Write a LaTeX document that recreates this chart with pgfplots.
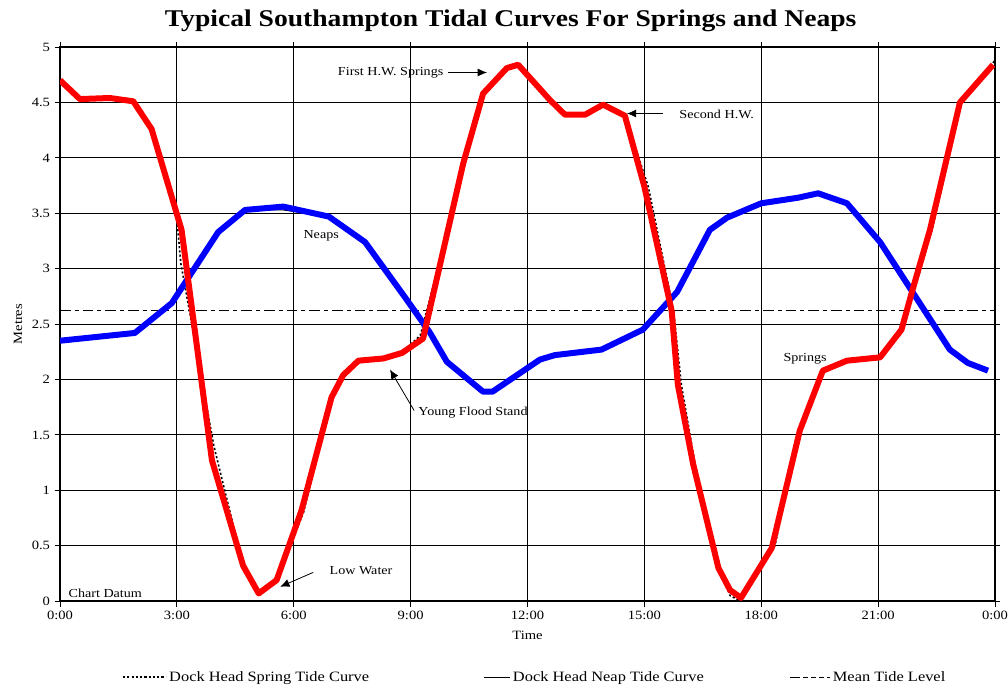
\documentclass[border=0pt]{standalone}
\usepackage{fontspec}
\setmainfont[FakeStretch=1.15]{Liberation Serif}
\usepackage{pgfplots}
\pgfplotsset{compat=1.18}
\usetikzlibrary{arrows.meta}

\pgfplotstableread{
x y
0.00 4.70
0.51 4.53
1.28 4.54
1.88 4.51
2.35 4.26
3.12 3.35
3.90 1.27
4.70 0.32
5.10 0.07
5.56 0.19
6.20 0.82
6.97 1.84
7.27 2.04
7.66 2.17
8.30 2.19
8.78 2.24
9.32 2.37
10.35 3.95
10.86 4.58
11.47 4.81
11.76 4.84
12.58 4.52
12.96 4.39
13.48 4.39
13.94 4.48
14.50 4.38
15.00 3.74
15.70 2.62
15.86 1.95
16.25 1.24
16.90 0.30
17.20 0.10
17.48 0.03
18.27 0.48
18.99 1.54
19.58 2.08
20.20 2.17
21.05 2.20
21.60 2.45
21.90 2.83
22.33 3.35
23.10 4.50
23.95 4.84
}\spring

\pgfplotstableread{
x y
0.00 4.70
0.51 4.53
1.28 4.53
1.88 4.51
2.35 4.26
3.00 3.45
3.10 3.05
3.95 1.40
4.70 0.32
5.10 0.07
5.56 0.19
6.25 0.80
6.97 1.84
7.27 2.04
7.66 2.17
8.30 2.19
8.78 2.24
9.25 2.40
10.40 3.95
10.86 4.58
11.47 4.81
11.76 4.84
12.58 4.52
12.96 4.39
13.48 4.39
13.94 4.48
14.50 4.38
15.10 3.74
15.75 2.62
15.95 1.95
16.30 1.24
16.90 0.30
17.20 0.05
17.48 0.00
18.35 0.50
18.99 1.54
19.65 2.10
20.20 2.17
21.05 2.20
21.60 2.45
21.95 2.83
22.38 3.35
23.15 4.50
24.00 4.88
}\springdot

\pgfplotstableread{
x y
0.00 2.35
1.92 2.42
2.87 2.69
4.06 3.33
4.75 3.53
5.73 3.53
6.90 3.47
7.83 3.24
8.90 2.72
9.50 2.42
9.93 2.16
10.86 1.89
11.10 1.89
12.32 2.18
12.70 2.22
13.90 2.27
14.96 2.45
15.84 2.79
16.68 3.33
17.12 3.46
18.00 3.59
18.94 3.64
19.46 3.68
20.20 3.59
21.05 3.24
21.90 2.78
22.84 2.27
23.30 2.15
23.82 2.08
}\neap

\pgfplotstableread{
x y
0.00 2.35
1.92 2.42
2.87 2.69
4.06 3.33
4.75 3.53
5.73 3.56
6.90 3.47
7.83 3.24
8.90 2.72
9.50 2.42
9.93 2.16
10.86 1.89
11.10 1.89
12.32 2.18
12.70 2.22
13.90 2.27
14.96 2.45
15.84 2.79
16.68 3.35
17.12 3.46
18.00 3.59
18.94 3.64
19.46 3.68
20.20 3.59
21.05 3.24
21.90 2.78
22.84 2.27
23.30 2.15
23.82 2.08
}\neapthick

\pgfplotstableread{
x y
0 2.62
24 2.62
}\mean

\begin{document}
\begin{tikzpicture}
\begin{axis}[
  width=701pt, height=415.5pt, scale only axis,
  xmin=0, xmax=24, ymin=0, ymax=5,
  xtick={0,3,...,24},
  xticklabels={0:00,3:00,6:00,9:00,12:00,15:00,18:00,21:00,0:00},
  ytick={0,0.5,...,5},
  yticklabels={0,0.5,1,1.5,2,2.5,3,3.5,4,4.5,5},
  grid=major,
  grid style={black, line width=0.7pt},
  axis line style={black, line width=1.2pt},
  tick style={black, line width=0.7pt},
  tick align=outside,
  major tick length=4pt,
  ticklabel style={font=\fontsize{9.5}{11}\selectfont},
  /pgf/number format/assume math mode=true,
  xlabel={Time},
  ylabel={Metres},
  xlabel style={at={(axis description cs:0.5,-0.0614)}, anchor=center, font=\fontsize{9.5}{11}\selectfont},
  ylabel style={at={(axis description cs:-0.045,0.5)}, anchor=center, font=\fontsize{9.5}{11}\selectfont},
  title={\textbf{Typical Southampton Tidal Curves For Springs and Neaps}},
  title style={at={(axis description cs:0.482,1.032)}, anchor=center, font=\fontsize{18}{21}\selectfont},
  legend style={at={(axis description cs:0.0663,-0.137)}, anchor=west, draw=none, fill=none, inner sep=0pt,
    font=\fontsize{10.7}{12}\selectfont,
    /tikz/column 2/.style={column sep=84pt},
    /tikz/column 4/.style={column sep=62pt}},
  legend columns=3,
  legend cell align=left,
]
\addplot[black, line width=1.2pt, dash pattern=on 1.6pt off 1.6pt,
  legend image code/.code={\draw[black, line width=1.2pt, dash pattern=on 1.6pt off 1.6pt] (0pt,0pt) -- (32pt,0pt);}] table {\springdot};
\addlegendentry{Dock Head Spring Tide Curve}
\addplot[black, line width=0.8pt,
  legend image code/.code={\draw[black, line width=0.8pt] (0pt,0pt) -- (19pt,0pt);}] table {\neap};
\addlegendentry{Dock Head Neap Tide Curve}
\addplot[black, line width=0.8pt, dash pattern=on 8pt off 3pt on 3pt off 3pt,
  legend image code/.code={\draw[black, line width=0.8pt, dash pattern=on 8pt off 2pt on 4pt off 2pt on 4pt off 2pt on 4pt off 2pt] (0pt,0pt) -- (30pt,0pt);}] table {\mean};
\addlegendentry{Mean Tide Level}
\addplot[blue, line width=4.5pt, line join=round, forget plot] table {\neapthick};
\addplot[red, line width=4.5pt, line join=round, forget plot] table {\spring};

\begin{scope}[font=\fontsize{9.2}{11}\selectfont]
\node[anchor=east, inner sep=1pt] at (axis cs:9.88,4.77) {First H.W. Springs};
\draw[-{Latex[length=7pt,width=6pt]}, line width=0.6pt] (axis cs:9.96,4.77) -- (axis cs:10.96,4.77);
\node[anchor=west, inner sep=1pt] at (axis cs:15.86,4.395) {Second H.W.};
\draw[-{Latex[length=7pt,width=6pt]}, line width=0.6pt] (axis cs:15.48,4.40) -- (axis cs:14.55,4.40);
\node[anchor=west, inner sep=1pt] at (axis cs:6.21,3.30) {Neaps};
\node[anchor=west, inner sep=1pt] at (axis cs:9.16,1.70) {Young Flood Stand};
\draw[-{Latex[length=7pt,width=6pt]}, line width=0.6pt] (axis cs:9.09,1.72) -- (axis cs:8.47,2.09);
\node[anchor=west, inner sep=1pt] at (axis cs:6.88,0.28) {Low Water};
\draw[-{Latex[length=7pt,width=6pt]}, line width=0.6pt] (axis cs:6.50,0.26) -- (axis cs:5.65,0.13);
\node[anchor=west, inner sep=1pt] at (axis cs:18.53,2.19) {Springs};
\node[anchor=west, inner sep=1pt] at (axis cs:0.18,0.07) {Chart Datum};
\end{scope}
\coordinate (SW) at (rel axis cs:0,0);
\coordinate (NE) at (rel axis cs:1,1);
\end{axis}
\pgfresetboundingbox
\path ([shift={(-45pt,-63.75pt)}]SW) rectangle ([shift={(9.75pt,35.25pt)}]NE);
\end{tikzpicture}
\end{document}
